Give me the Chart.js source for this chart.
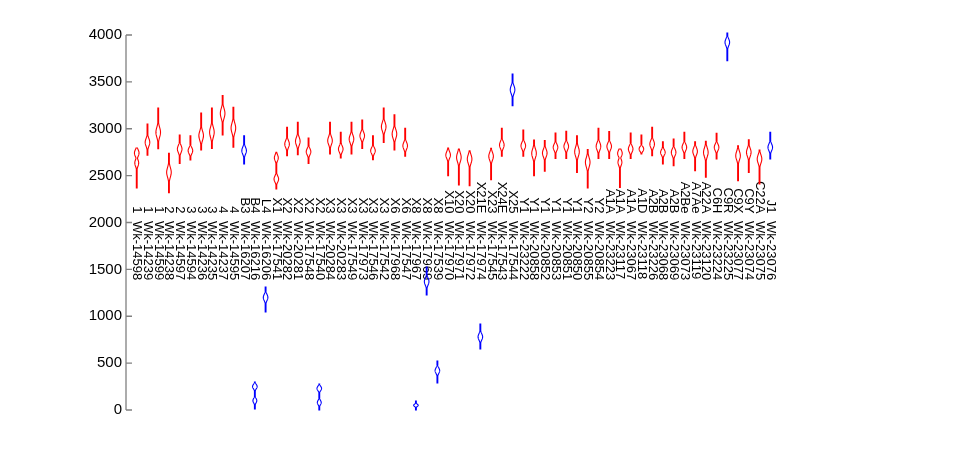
<!DOCTYPE html>
<html><head><meta charset="utf-8">
<script src="https://cdn.jsdelivr.net/npm/chart.js@4.4.0/dist/chart.umd.min.js"></script>
<style>html,body{margin:0;padding:0;background:#fff;} #wrap{width:969px;height:462px;position:relative;}</style>
</head><body><div id="wrap"><canvas id="c"></canvas></div>
<script>
const ids = ["Wk-14598","Wk-14239","Wk-14599","Wk-14238","Wk-14597","Wk-14594","Wk-14236","Wk-14235","Wk-14237","Wk-14595",
  "Wk-16207","Wk-16216","Wk-16206","Wk-17541","Wk-20282","Wk-20281","Wk-17548","Wk-17540","Wk-20284","Wk-20283",
  "Wk-17549","Wk-17973","Wk-17546","Wk-17542","Wk-17968","Wk-17547","Wk-17967","Wk-17969","Wk-17539","Wk-17970",
  "Wk-17971","Wk-17972","Wk-17974","Wk-17545","Wk-17543","Wk-17544","Wk-23222","Wk-20858","Wk-20852","Wk-20853",
  "Wk-20851","Wk-20850","Wk-20855","Wk-20854","Wk-23223","Wk-23117","Wk-23067","Wk-23118","Wk-23226","Wk-23068",
  "Wk-23069","Wk-23073","Wk-23119","Wk-23120","Wk-23224","Wk-23225","Wk-23077","Wk-23074","Wk-23075","Wk-23076"];
const groups = ["1","1","1","2","2","3","3","3","4","4",
  "B3","B4","L4","X1","X2","X2","X2","X2","X3","X3",
  "X3","X3","X3","X3","X6","X6","X8","X8","X8","X10",
  "X20","X20","X21E","X23","X24E","X25","Y1","Y1","Y1","Y1",
  "Y1","Y1","Y2","Y2","A1A","A1A","A1A","A1D","A2B","A2B",
  "A2B","A2Be","A7Ae","A22A","C6H","C9R","C9X","C9Y","C22A","J1"];
const mins = [2368,2717,2788,2318,2631,2667,2773,2791,2933,2802,
  2624,10,1045,2357,2713,2724,2631,0,2731,2688,
  2731,2791,2670,2855,2773,2706,0,1227,288,2499,
  2400,2393,651,2457,2706,3246,2706,2499,2546,2684,
  2684,2535,2368,2684,2684,2375,2684,2731,2713,2624,
  2606,2684,2553,2482,2677,3726,2446,2535,2411,2677];
const maxs = [2795,3051,3221,2738,2933,2926,3168,3221,3353,3228,
  2926,299,1312,2748,3015,3068,2901,277,3068,2962,
  3068,3093,2926,3221,3150,3004,96,1525,523,2795,
  2784,2766,917,2791,3004,3584,2987,2880,2873,2955,
  2972,2926,2777,3004,2969,2784,2955,2933,3015,2862,
  2891,2962,2862,2866,2951,4021,2819,2883,2773,2962];
const modes = [2741,2855,2962,2535,2784,2766,2926,2962,3164,3008,
  2766,250,1200,2464,2837,2866,2755,230,2873,2784,
  2891,2926,2766,3022,2944,2819,50,1370,420,2720,
  2695,2677,780,2706,2827,3417,2819,2738,2741,2802,
  2812,2755,2642,2812,2812,2738,2784,2784,2837,2748,
  2748,2802,2759,2748,2802,3922,2713,2748,2677,2802];
const modes2 = [2635,null,null,null,null,null,null,null,null,null,
  null,100,null,2690,null,null,null,80,null,null,
  null,null,null,null,null,null,null,null,null,null,
  null,null,null,null,null,null,null,null,null,null,
  null,null,null,null,null,2642,null,null,null,null,
  null,null,null,null,null,null,null,null,null,null];
const kinds = ["r","r","r","r","r","r","r","r","r","r",
  "b","b","b","r","r","r","r","b","r","r",
  "r","r","r","r","r","r","b","b","b","r",
  "r","r","b","r","r","b","r","r","r","r",
  "r","r","r","r","r","r","r","r","r","r",
  "r","r","r","r","r","b","r","r","r","b"];
const yTicks = [0,500,1000,1500,2000,2500,3000,3500,4000];

const COLORS = {r:"#ff0000", b:"#0000ff"};
const AXIS = "#808080";
const FONT = '"Liberation Sans", Arial, sans-serif';

const violinPlugin = {
  id: "violins",
  afterDatasetsDraw(chart) {
    const ctx = chart.ctx, xs = chart.scales.x, ys = chart.scales.y, ca = chart.chartArea;
    ctx.save();
    ctx.strokeStyle = AXIS; ctx.lineWidth = 1.3;
    ctx.beginPath();
    ctx.moveTo(ca.left, ys.getPixelForValue(4000)); ctx.lineTo(ca.left, ys.getPixelForValue(0));
    yTicks.forEach(t => { const y = ys.getPixelForValue(t); ctx.moveTo(ca.left, y); ctx.lineTo(ca.left + 6, y); });
    ctx.stroke();
    ctx.fillStyle = "#000"; ctx.font = "13px " + FONT; ctx.textBaseline = "middle";
    const yLab = ys.getPixelForValue(2000);
    ids.forEach((id, i) => {
      const cx = xs.getPixelForValue(i);
      ctx.save(); ctx.translate(cx, yLab - 1.5); ctx.rotate(Math.PI / 2);
      ctx.textAlign = "left"; ctx.fillText(id, 0, 0); ctx.restore();
      ctx.save(); ctx.translate(cx, yLab - 9); ctx.rotate(Math.PI / 2);
      ctx.textAlign = "right"; ctx.fillText(groups[i], 0, 0); ctx.restore();
    });
    const W = 2.3, N = 80;
    ids.forEach((id, i) => {
      const cx = xs.getPixelForValue(i);
      const lo = mins[i], hi = maxs[i], m1 = modes[i], m2 = modes2[i];
      const two = m2 !== null;
      const sig = (hi - lo) / (two ? 12 : 8);
      const wAt = v => {
        let d = Math.exp(-0.5 * Math.pow((v - m1) / sig, 2));
        if (two) d = Math.max(d, 0.85 * Math.exp(-0.5 * Math.pow((v - m2) / sig, 2)));
        return Math.max(W * d, 0.4);
      };
      const pts = [];
      for (let k = 0; k <= N; k++) { const v = lo + (hi - lo) * k / N; pts.push([ys.getPixelForValue(v), wAt(v)]); }
      ctx.strokeStyle = COLORS[kinds[i]]; ctx.lineWidth = 1.1;
      ctx.beginPath();
      pts.forEach((p, k) => { if (k === 0) ctx.moveTo(cx - p[1], p[0]); else ctx.lineTo(cx - p[1], p[0]); });
      for (let k = pts.length - 1; k >= 0; k--) ctx.lineTo(cx + pts[k][1], pts[k][0]);
      ctx.closePath(); ctx.stroke();
    });
    ctx.restore();
  }
};

new Chart(document.getElementById("c"), {
  type: "bar",
  data: {
    datasets: [{
      data: ids.map((_, i) => ({x: i, y: [mins[i], maxs[i]]})),
      backgroundColor: "rgba(0,0,0,0)", borderWidth: 0, barThickness: 1
    }]
  },
  options: {
    responsive: true, maintainAspectRatio: false, animation: false,
    devicePixelRatio: 1,
    layout: {padding: {left: 0, right: 188, top: 35, bottom: 52}},
    plugins: {legend: {display: false}, tooltip: {enabled: false}},
    scales: {
      x: {type: "linear", min: -1, max: 60, display: false, offset: false},
      y: {
        min: 0, max: 4000,
        afterBuildTicks: s => { s.ticks = yTicks.map(v => ({value: v})); },
        afterFit: s => { s.width = 126; },
        ticks: {color: "#000", padding: 4, font: {family: FONT, size: 15}, callback: v => String(v)},
        grid: {display: false, drawTicks: false},
        border: {display: false}
      }
    }
  },
  plugins: [violinPlugin]
});
</script></body></html>
